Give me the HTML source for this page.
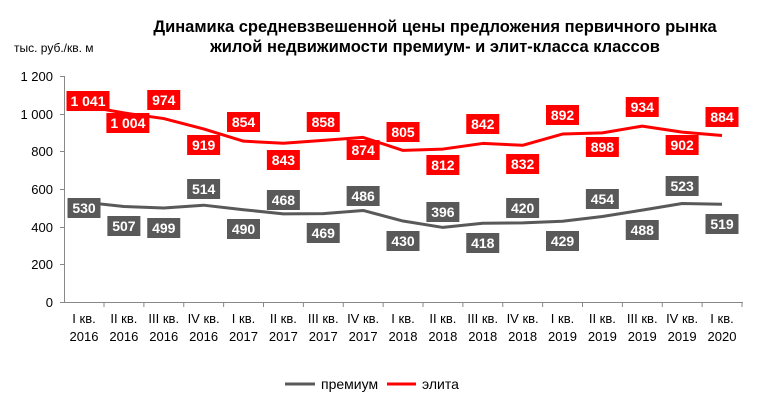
<!DOCTYPE html>
<html><head><meta charset="utf-8"><style>
body{margin:0;background:#fff;}
svg text{font-family:"Liberation Sans",Arial,sans-serif;}
</style></head><body>
<svg width="767" height="409" xmlns="http://www.w3.org/2000/svg">
<text x="435" y="32" text-anchor="middle" font-size="16.5" font-weight="bold" fill="#000">Динамика средневзвешенной цены предложения первичного рынка</text>
<text x="435" y="52" text-anchor="middle" font-size="16.5" font-weight="bold" fill="#000">жилой недвижимости премиум- и элит-класса классов</text>
<text x="14" y="52" font-size="12" fill="#000">тыс. руб./кв. м</text>
<g font-size="13" fill="#000" text-anchor="end">
<text x="53" y="81">1 200</text><text x="53" y="119">1 000</text><text x="53" y="156">800</text>
<text x="53" y="194">600</text><text x="53" y="232">400</text><text x="53" y="269">200</text><text x="53" y="307">0</text>
</g>
<g stroke="#888" stroke-width="1">
<line x1="64.5" y1="76" x2="64.5" y2="302"/>
<line x1="64" y1="302.5" x2="743" y2="302.5"/>
<line x1="60" y1="76.5" x2="64" y2="76.5"/><line x1="60" y1="114.5" x2="64" y2="114.5"/><line x1="60" y1="151.5" x2="64" y2="151.5"/><line x1="60" y1="189.5" x2="64" y2="189.5"/><line x1="60" y1="227.5" x2="64" y2="227.5"/><line x1="60" y1="264.5" x2="64" y2="264.5"/><line x1="60" y1="302.5" x2="64" y2="302.5"/>
</g>
<g id="ticks" stroke="#888"></g>
<g id="xl" font-size="13" fill="#000" text-anchor="middle"></g>
<polyline id="pr" fill="none" stroke="#595959" stroke-width="3" stroke-linejoin="round"/>
<polyline id="el" fill="none" stroke="#ff0000" stroke-width="3" stroke-linejoin="round"/>
<g id="lb" font-size="14" font-weight="bold" fill="#fff" text-anchor="middle"></g>
<line x1="285" y1="384" x2="315" y2="384" stroke="#595959" stroke-width="3"/>
<text x="321" y="389" font-size="14" fill="#000">премиум</text>
<line x1="387" y1="384" x2="416" y2="384" stroke="#ff0000" stroke-width="3"/>
<text x="422" y="389" font-size="14" fill="#000">элита</text>
</svg>
<script>
var q=["I","II","III","IV"],ns="http://www.w3.org/2000/svg";
function X(i){return 84+39.875*i}function Y(v){return 302-v*226/1200}
var P=[530,507,499,514,490,468,469,486,430,396,418,420,429,454,488,523,519];
var E=[1041,1004,974,919,854,843,858,874,805,812,842,832,892,898,934,902,884];
var ey=[101,123,100,145,122,160,122,150,132,165,124,164,115,147,107,145,117];
var py=[208,226,228,189,229,200,233,196,241,212,243,208,241,199,230,186,224];
function el(t,a,p,txt){var e=document.createElementNS(ns,t);for(var k in a)e.setAttribute(k,a[k]);if(txt)e.textContent=txt;p.appendChild(e);}
var tk=document.getElementById("ticks"),xl=document.getElementById("xl"),lb=document.getElementById("lb");
var pp=[],ep=[];
for(var i=0;i<17;i++){
 var x=X(i);
 el("line",{x1:x+20,y1:302,x2:x+20,y2:307},tk);
 var qi=i%4,yr=2016+Math.floor(i/4);
 el("text",{x:x,y:323},xl,q[qi]+" кв.");
 el("text",{x:x,y:341},xl,""+yr);
 pp.push(x+","+Y(P[i]));ep.push(x+","+Y(E[i]));
}
document.getElementById("pr").setAttribute("points",pp.join(" "));
document.getElementById("el").setAttribute("points",ep.join(" "));
for(var i=0;i<17;i++){
 var x=X(i);
 var big=E[i]>=1000;
 var s=big?(""+E[i]).replace(/^(\d)/,"$1 "):""+E[i];
 var w=big?43:33, cx=big?x+4:x;
 el("rect",{x:cx-w/2,y:ey[i]-10,width:w,height:20,fill:"#ff0000"},lb);
 el("text",{x:cx,y:ey[i]+5},lb,s);
 el("rect",{x:x-16.5,y:py[i]-10,width:33,height:20,fill:"#595959"},lb);
 el("text",{x:x,y:py[i]+5},lb,""+P[i]);
}
</script>
</body></html>
